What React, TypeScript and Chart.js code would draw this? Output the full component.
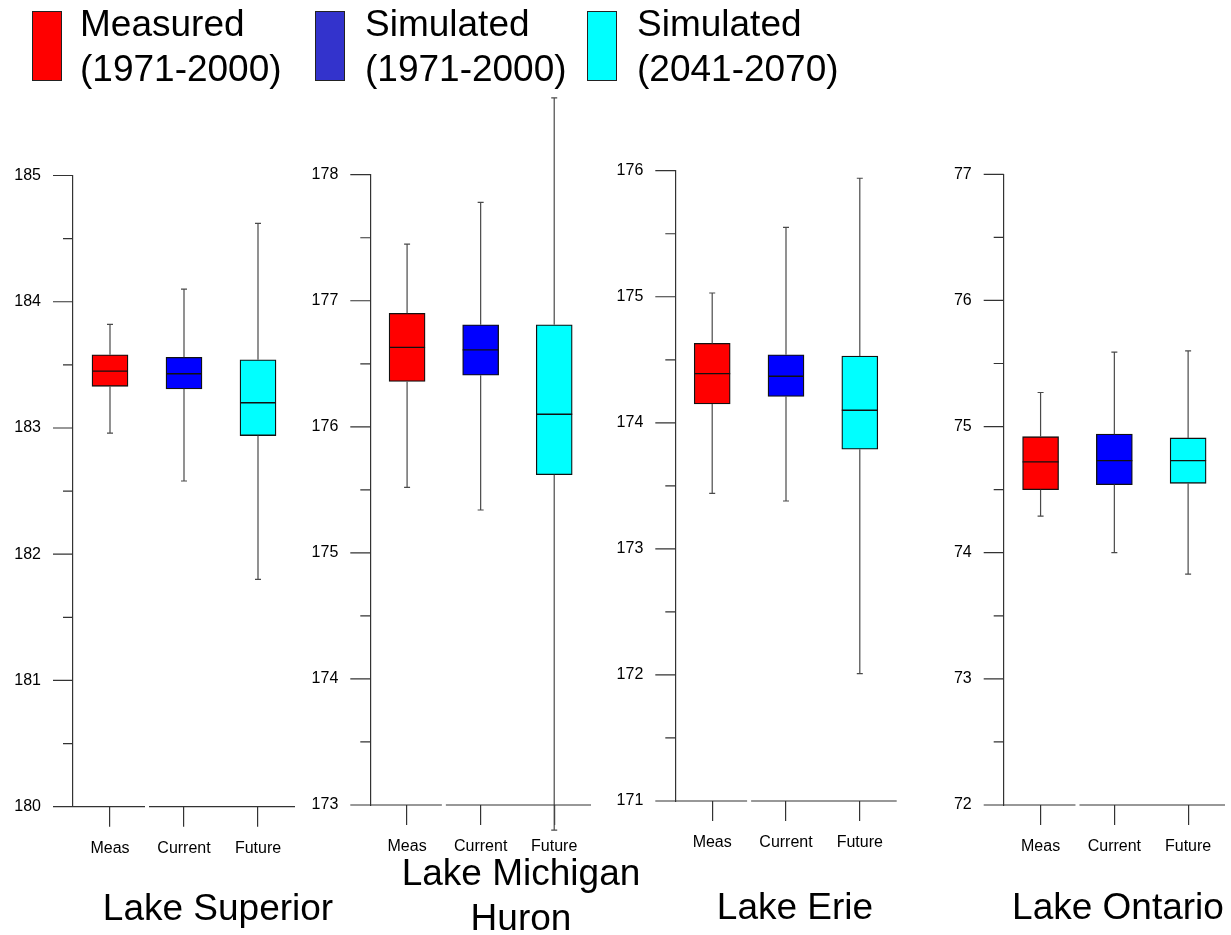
import React, { useEffect, useRef } from "react";
import { Chart, registerables } from "chart.js";

Chart.register(...registerables);

// ---------------- DATA ----------------
const categories = ["Meas", "Current", "Future"];

// Lake Superior
const superiorMin = [182.96, 182.58, 181.8];
const superiorQ1 = [183.33, 183.31, 182.94];
const superiorMedian = [183.45, 183.43, 183.2];
const superiorQ3 = [183.58, 183.56, 183.54];
const superiorMax = [183.82, 184.1, 184.62];
const superiorAxis = [180, 185];

// Lake Michigan-Huron
const michiganMin = [175.52, 175.34, 172.8];
const michiganQ1 = [176.36, 176.41, 175.62];
const michiganMedian = [176.63, 176.61, 176.1];
const michiganQ3 = [176.9, 176.81, 176.81];
const michiganMax = [177.45, 177.78, 178.61];
const michiganAxis = [173, 178];

// Lake Erie
const erieMin = [173.44, 173.38, 172.01];
const erieQ1 = [174.15, 174.21, 173.79];
const erieMedian = [174.39, 174.37, 174.1];
const erieQ3 = [174.63, 174.54, 174.53];
const erieMax = [175.03, 175.55, 175.94];
const erieAxis = [171, 176];

// Lake Ontario
const ontarioMin = [74.29, 74.0, 73.83];
const ontarioQ1 = [74.5, 74.54, 74.55];
const ontarioMedian = [74.72, 74.73, 74.73];
const ontarioQ3 = [74.92, 74.94, 74.91];
const ontarioMax = [75.27, 75.59, 75.6];
const ontarioAxis = [72, 77];

const legendLabels = [
  ["Measured", "(1971-2000)"],
  ["Simulated", "(1971-2000)"],
  ["Simulated", "(2041-2070)"],
];
const lakeTitles = [["Lake Superior"], ["Lake Michigan", "Huron"], ["Lake Erie"], ["Lake Ontario"]];

// ---------------- STYLE / LAYOUT ----------------
const W = 1231;
const H = 935;
const FONT = '"Liberation Sans", Arial, Helvetica, sans-serif';
const boxColors = ["#FF0000", "#0000FF", "#00FFFF"];
const legendColors = ["#FF0000", "#3333CC", "#00FFFF"];
const AXIS_COLOR = "#333333";
const WHISKER_COLOR = "#4a4a4a";
const Y_W = 60;
const X_H = 60;

type Stats = { min: number[]; q1: number[]; med: number[]; q3: number[]; max: number[]; axis: number[] };

const panelStats: Stats[] = [
  { min: superiorMin, q1: superiorQ1, med: superiorMedian, q3: superiorQ3, max: superiorMax, axis: superiorAxis },
  { min: michiganMin, q1: michiganQ1, med: michiganMedian, q3: michiganQ3, max: michiganMax, axis: michiganAxis },
  { min: erieMin, q1: erieQ1, med: erieMedian, q3: erieQ3, max: erieMax, axis: erieAxis },
  { min: ontarioMin, q1: ontarioQ1, med: ontarioMedian, q3: ontarioQ3, max: ontarioMax, axis: ontarioAxis },
];

// chart area geometry per panel (pixels)
const panelGeom = [
  { left: 73, right: 295, top: 175.5, bottom: 806.7 },
  { left: 370.3, right: 591, top: 174.7, bottom: 805 },
  { left: 675.3, right: 896.7, top: 170.7, bottom: 801 },
  { left: 1003.7, right: 1225, top: 174.3, bottom: 805 },
];

const titleGeom = [
  { cx: 218, top: 885 },
  { cx: 521, top: 850 },
  { cx: 795, top: 884 },
  { cx: 1118, top: 884 },
];

const legendGeom = [
  { box: 32, text: 80 },
  { box: 315, text: 365 },
  { box: 587, text: 637 },
];

function makeBoxPlugin(stats: Stats) {
  return {
    id: "boxWhiskers",
    afterDatasetsDraw(chart: any) {
      const ctx = chart.ctx;
      const y = chart.scales.y;
      const meta = chart.getDatasetMeta(0);
      ctx.save();
      meta.data.forEach((bar: any, i: number) => {
        const x = bar.x;
        const half = bar.width / 2;
        const pMax = y.getPixelForValue(stats.max[i]);
        const pMin = y.getPixelForValue(stats.min[i]);
        const pQ1 = y.getPixelForValue(stats.q1[i]);
        const pQ3 = y.getPixelForValue(stats.q3[i]);
        const pMed = y.getPixelForValue(stats.med[i]);
        ctx.strokeStyle = WHISKER_COLOR;
        ctx.lineWidth = 1.2;
        ctx.beginPath();
        ctx.moveTo(x, pQ3);
        ctx.lineTo(x, pMax);
        ctx.moveTo(x - 3, pMax);
        ctx.lineTo(x + 3, pMax);
        ctx.moveTo(x, pQ1);
        ctx.lineTo(x, pMin);
        ctx.moveTo(x - 3, pMin);
        ctx.lineTo(x + 3, pMin);
        ctx.stroke();
        ctx.strokeStyle = "#111";
        ctx.lineWidth = 1.4;
        ctx.beginPath();
        ctx.moveTo(x - half, pMed);
        ctx.lineTo(x + half, pMed);
        ctx.stroke();
      });
      ctx.restore();
    },
    afterDraw(chart: any) {
      const ctx = chart.ctx;
      const ys = chart.scales.y;
      const xs = chart.scales.x;
      const area = chart.chartArea;
      ctx.save();
      ctx.strokeStyle = AXIS_COLOR;
      ctx.lineWidth = 1.2;
      // y tick marks, major and minor
      const ticks = ys.ticks.map((t: any) => t.value);
      ctx.beginPath();
      ticks.forEach((v: number, k: number) => {
        const p = ys.getPixelForValue(v);
        ctx.moveTo(area.left - 20, p);
        ctx.lineTo(area.left, p);
        if (k < ticks.length - 1) {
          const pm = ys.getPixelForValue((v + ticks[k + 1]) / 2);
          ctx.moveTo(area.left - 10, pm);
          ctx.lineTo(area.left, pm);
        }
      });
      // x axis line with a small gap between first and second categories
      const b = (xs.getPixelForValue(0) + xs.getPixelForValue(1)) / 2;
      const yb = area.bottom;
      ctx.moveTo(area.left, yb);
      ctx.lineTo(b - 2, yb);
      ctx.moveTo(b + 2, yb);
      ctx.lineTo(area.right, yb);
      ctx.stroke();
      ctx.restore();
    },
  };
}

function Panel({ index }: { index: number }) {
  const ref = useRef<HTMLCanvasElement | null>(null);
  useEffect(() => {
    const stats = panelStats[index];
    const g = panelGeom[index];
    const chart = new Chart(ref.current as HTMLCanvasElement, {
      type: "bar",
      data: {
        labels: categories,
        datasets: [
          {
            data: categories.map((_, i) => [stats.q1[i], stats.q3[i]]) as any,
            backgroundColor: boxColors,
            borderColor: "#111",
            borderWidth: 1.3,
            borderSkipped: false,
            barThickness: 36,
          },
        ],
      },
      options: {
        responsive: false,
        animation: false,
        devicePixelRatio: 1,
        layout: {
          padding: {
            left: g.left - Y_W,
            right: W - g.right,
            top: g.top,
            bottom: H - g.bottom - X_H,
          },
        },
        plugins: {
          legend: { display: false },
          tooltip: { enabled: false },
          title: { display: false },
        },
        scales: {
          x: {
            type: "category",
            offset: true,
            grid: {
              display: true,
              drawOnChartArea: false,
              drawTicks: true,
              tickLength: 20,
              offset: false,
              color: AXIS_COLOR,
              lineWidth: 1.2,
            },
            border: { display: false },
            ticks: {
              color: "#000",
              font: { family: FONT, size: 16 },
              padding: 12,
              maxRotation: 0,
              autoSkip: false,
            },
            afterFit: (s: any) => {
              s.height = X_H;
            },
          },
          y: {
            type: "linear",
            min: stats.axis[0],
            max: stats.axis[1],
            grid: { display: false, drawTicks: false },
            border: { display: true, color: AXIS_COLOR, width: 1.2 },
            ticks: {
              stepSize: 1,
              color: "#000",
              font: { family: FONT, size: 16 },
              padding: 32,
              callback: (v: any) => String(v),
            },
            afterFit: (s: any) => {
              s.width = Y_W;
            },
          },
        },
      },
      plugins: [makeBoxPlugin(stats)],
    });
    return () => chart.destroy();
  }, [index]);
  return (
    <canvas
      ref={ref}
      width={W}
      height={H}
      style={{ position: "absolute", left: 0, top: 0, width: W, height: H }}
    />
  );
}

export default function App() {
  return (
    <div
      style={{
        position: "absolute",
        left: 0,
        top: 0,
        width: W,
        height: H,
        background: "#fff",
        overflow: "hidden",
        fontFamily: FONT,
        color: "#000",
      }}
    >
      {panelStats.map((_, i) => (
        <Panel key={i} index={i} />
      ))}
      {legendLabels.map((lines, i) => (
        <React.Fragment key={"lg" + i}>
          <div
            style={{
              position: "absolute",
              left: legendGeom[i].box,
              top: 11,
              width: 30,
              height: 70,
              boxSizing: "border-box",
              border: "1.5px solid #222",
              background: legendColors[i],
            }}
          />
          <div
            style={{
              position: "absolute",
              left: legendGeom[i].text,
              top: 1,
              fontSize: 37,
              lineHeight: "45px",
              whiteSpace: "nowrap",
            }}
          >
            {lines.map((l, k) => (
              <div key={k}>{l}</div>
            ))}
          </div>
        </React.Fragment>
      ))}
      {lakeTitles.map((lines, i) => (
        <div
          key={"t" + i}
          style={{
            position: "absolute",
            left: titleGeom[i].cx - 200,
            width: 400,
            top: titleGeom[i].top,
            fontSize: 37,
            lineHeight: "45px",
            textAlign: "center",
            whiteSpace: "nowrap",
          }}
        >
          {lines.map((l, k) => (
            <div key={k}>{l}</div>
          ))}
        </div>
      ))}
    </div>
  );
}
